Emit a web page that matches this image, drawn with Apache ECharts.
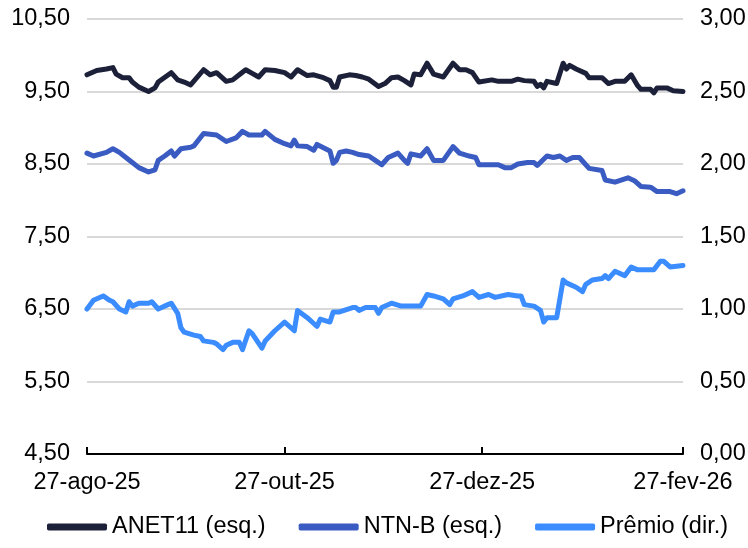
<!DOCTYPE html>
<html><head><meta charset="utf-8">
<script src="https://cdn.jsdelivr.net/npm/echarts@6/dist/echarts.min.js"></script>
<style>html,body{margin:0;padding:0;background:#fff}#c{width:748px;height:548px}</style>
</head><body><div id="c"></div>
<script>
const startDate = '2025-08-27';
const endDate = '2026-02-27';
const tickDates = ['2025-08-27','2025-10-27','2025-12-27','2026-02-27'];
const tickLabels = ['27-ago-25','27-out-25','27-dez-25','27-fev-26'];
const seriesNames = ['ANET11 (esq.)','NTN-B (esq.)','Prêmio (dir.)'];

const anetDates = ['2025-08-27','2025-08-30','2025-09-02','2025-09-04','2025-09-05','2025-09-07','2025-09-09','2025-09-10','2025-09-12','2025-09-15','2025-09-17','2025-09-18','2025-09-22','2025-09-24','2025-09-26','2025-09-28','2025-10-02','2025-10-04','2025-10-06','2025-10-09','2025-10-11','2025-10-13','2025-10-15','2025-10-17','2025-10-19','2025-10-21','2025-10-24','2025-10-27','2025-10-29','2025-10-31','2025-11-03','2025-11-05','2025-11-08','2025-11-10','2025-11-11','2025-11-12','2025-11-13','2025-11-16','2025-11-18','2025-11-20','2025-11-22','2025-11-25','2025-11-27','2025-11-29','2025-12-01','2025-12-03','2025-12-05','2025-12-06','2025-12-08','2025-12-10','2025-12-12','2025-12-15','2025-12-18','2025-12-20','2025-12-22','2025-12-24','2025-12-26','2025-12-30','2026-01-01','2026-01-05','2026-01-07','2026-01-09','2026-01-12','2026-01-13','2026-01-14','2026-01-15','2026-01-16','2026-01-19','2026-01-21','2026-01-22','2026-01-23','2026-01-25','2026-01-28','2026-01-29','2026-02-02','2026-02-04','2026-02-06','2026-02-09','2026-02-11','2026-02-13','2026-02-14','2026-02-17','2026-02-18','2026-02-19','2026-02-22','2026-02-24','2026-02-27'];
const anetValues = [9.73,9.79,9.81,9.83,9.74,9.69,9.69,9.63,9.56,9.50,9.55,9.63,9.76,9.66,9.63,9.59,9.80,9.73,9.76,9.64,9.66,9.73,9.80,9.75,9.70,9.80,9.79,9.76,9.70,9.80,9.72,9.73,9.69,9.65,9.56,9.56,9.70,9.73,9.72,9.70,9.67,9.57,9.61,9.69,9.70,9.65,9.59,9.74,9.73,9.89,9.74,9.70,9.89,9.80,9.80,9.76,9.63,9.66,9.64,9.64,9.67,9.65,9.64,9.57,9.60,9.55,9.64,9.61,9.89,9.81,9.86,9.81,9.75,9.69,9.69,9.61,9.64,9.64,9.73,9.58,9.53,9.53,9.48,9.55,9.55,9.51,9.50];

const ntnbDates = ['2025-08-27','2025-08-29','2025-09-02','2025-09-04','2025-09-06','2025-09-08','2025-09-10','2025-09-12','2025-09-15','2025-09-17','2025-09-18','2025-09-20','2025-09-22','2025-09-23','2025-09-25','2025-09-28','2025-09-29','2025-10-02','2025-10-04','2025-10-06','2025-10-09','2025-10-12','2025-10-14','2025-10-16','2025-10-20','2025-10-21','2025-10-24','2025-10-27','2025-10-29','2025-10-30','2025-10-31','2025-11-03','2025-11-05','2025-11-06','2025-11-10','2025-11-11','2025-11-12','2025-11-13','2025-11-15','2025-11-17','2025-11-19','2025-11-22','2025-11-24','2025-11-26','2025-11-28','2025-12-01','2025-12-03','2025-12-04','2025-12-05','2025-12-08','2025-12-10','2025-12-12','2025-12-15','2025-12-18','2025-12-20','2025-12-23','2025-12-25','2025-12-26','2026-01-01','2026-01-03','2026-01-05','2026-01-07','2026-01-10','2026-01-12','2026-01-13','2026-01-16','2026-01-18','2026-01-20','2026-01-22','2026-01-24','2026-01-26','2026-01-29','2026-02-02','2026-02-03','2026-02-06','2026-02-10','2026-02-12','2026-02-14','2026-02-17','2026-02-19','2026-02-23','2026-02-25','2026-02-27'];
const ntnbValues = [8.65,8.61,8.66,8.71,8.66,8.59,8.52,8.45,8.39,8.42,8.55,8.61,8.68,8.61,8.71,8.73,8.75,8.92,8.91,8.90,8.81,8.86,8.95,8.90,8.90,8.95,8.84,8.78,8.75,8.83,8.75,8.74,8.69,8.77,8.68,8.51,8.55,8.66,8.68,8.66,8.63,8.61,8.55,8.49,8.59,8.65,8.55,8.51,8.64,8.61,8.71,8.55,8.55,8.74,8.65,8.61,8.59,8.49,8.49,8.45,8.45,8.50,8.52,8.52,8.48,8.61,8.59,8.61,8.55,8.59,8.59,8.44,8.41,8.28,8.25,8.31,8.27,8.19,8.18,8.12,8.12,8.09,8.13];

const premioDates = ['2025-08-27','2025-08-29','2025-09-01','2025-09-03','2025-09-04','2025-09-06','2025-09-08','2025-09-09','2025-09-10','2025-09-12','2025-09-15','2025-09-16','2025-09-18','2025-09-21','2025-09-22','2025-09-24','2025-09-25','2025-09-26','2025-09-29','2025-10-01','2025-10-02','2025-10-05','2025-10-06','2025-10-08','2025-10-09','2025-10-11','2025-10-13','2025-10-14','2025-10-16','2025-10-17','2025-10-20','2025-10-21','2025-10-24','2025-10-27','2025-10-30','2025-10-31','2025-11-03','2025-11-05','2025-11-06','2025-11-07','2025-11-10','2025-11-11','2025-11-13','2025-11-17','2025-11-18','2025-11-19','2025-11-21','2025-11-24','2025-11-25','2025-11-26','2025-11-29','2025-12-02','2025-12-08','2025-12-10','2025-12-12','2025-12-15','2025-12-17','2025-12-18','2025-12-21','2025-12-24','2025-12-26','2025-12-29','2025-12-31','2026-01-04','2026-01-07','2026-01-08','2026-01-09','2026-01-12','2026-01-14','2026-01-15','2026-01-16','2026-01-19','2026-01-21','2026-01-22','2026-01-25','2026-01-27','2026-01-28','2026-01-30','2026-02-02','2026-02-03','2026-02-04','2026-02-06','2026-02-09','2026-02-11','2026-02-13','2026-02-18','2026-02-20','2026-02-21','2026-02-23','2026-02-27'];
const premioValues = [1.00,1.06,1.09,1.06,1.05,1.00,0.98,1.05,1.02,1.04,1.04,1.05,1.00,1.03,1.04,0.97,0.87,0.84,0.82,0.81,0.78,0.77,0.76,0.72,0.75,0.77,0.77,0.72,0.85,0.83,0.73,0.78,0.85,0.91,0.85,0.99,0.94,0.90,0.88,0.93,0.91,0.98,0.98,1.01,1.01,0.99,1.01,1.01,0.97,1.01,1.04,1.02,1.02,1.10,1.09,1.07,1.03,1.07,1.09,1.12,1.08,1.10,1.08,1.10,1.09,1.09,1.03,1.02,0.99,0.91,0.94,0.94,1.20,1.18,1.15,1.12,1.17,1.20,1.21,1.23,1.21,1.26,1.23,1.29,1.27,1.27,1.33,1.33,1.29,1.30];

const DAY = 86400000;
const toDay = d => Math.round((Date.parse(d) - Date.parse(startDate)) / DAY);
const tickDays = tickDates.map(toDay);
const pairs = (ds, vs) => ds.map((d, i) => [toDay(d), vs[i]]);
const fmt = v => v.toFixed(2).replace('.', ',');
const FONT = 'Liberation Sans, Arial, sans-serif';
const FS = 23.5;

const chart = echarts.init(document.getElementById('c'), null, {renderer: 'canvas'});
chart.setOption({
  animation: false,
  backgroundColor: '#fff',
  grid: {left: 87, right: 65, top: 19, bottom: 94, outerBoundsMode: 'none', containLabel: false},
  legend: {
    data: seriesNames, left: 42, top: 510, itemWidth: 60, itemHeight: 7, itemGap: 33,
    icon: 'roundRect',
    textStyle: {fontSize: FS, color: '#000', fontFamily: FONT}
  },
  xAxis: {
    type: 'value', min: 0, max: toDay(endDate),
    axisLine: {show: true, lineStyle: {color: '#000', width: 2}},
    axisTick: {show: true, inside: true, length: 7, lineStyle: {color: '#000', width: 2}, customValues: tickDays},
    axisLabel: {customValues: tickDays, formatter: v => tickLabels[tickDays.indexOf(v)], fontSize: FS, color: '#000', margin: 17, fontFamily: FONT},
    splitLine: {show: false}
  },
  yAxis: [
    {type: 'value', min: 4.5, max: 10.5, interval: 1,
     axisLine: {show: false}, axisTick: {show: false},
     axisLabel: {formatter: fmt, fontSize: FS, color: '#000', margin: 17, fontFamily: FONT},
     splitLine: {show: true, lineStyle: {color: '#d9d9d9', width: 2}}},
    {type: 'value', min: 0, max: 3, interval: 0.5,
     axisLine: {show: false}, axisTick: {show: false},
     axisLabel: {formatter: fmt, fontSize: FS, color: '#000', margin: 17, fontFamily: FONT},
     splitLine: {show: false}}
  ],
  series: [
    {name: seriesNames[0], type: 'line', yAxisIndex: 0, data: pairs(anetDates, anetValues), showSymbol: false, color: '#1c2139',
     lineStyle: {width: 5, cap: 'round', join: 'round'}},
    {name: seriesNames[1], type: 'line', yAxisIndex: 0, data: pairs(ntnbDates, ntnbValues), showSymbol: false, color: '#3a5bc2',
     lineStyle: {width: 5, cap: 'round', join: 'round'}},
    {name: seriesNames[2], type: 'line', yAxisIndex: 1, data: pairs(premioDates, premioValues), showSymbol: false, color: '#3a8cff',
     lineStyle: {width: 5, cap: 'round', join: 'round'}}
  ]
});
</script></body></html>
